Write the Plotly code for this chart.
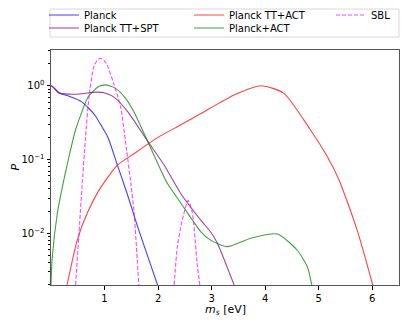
import plotly.graph_objects as go

# values (x in eV, y = P)
planck_x = [0, 0, 0.14, 0.30, 0.45, 0.58, 0.70, 0.83, 0.95, 1.07, 1.24, 1.42, 1.58, 1.73, 1.99]
planck_y = [0.0001, 1.0, 0.80, 0.74, 0.67, 0.60, 0.50, 0.39, 0.28, 0.195, 0.084, 0.035, 0.015, 0.0071, 0.002]

spt_x = [0, 0, 0.14, 0.33, 0.58, 0.83, 1.01, 1.20, 1.45, 1.80, 2.11, 2.42, 2.80, 2.98, 3.11, 3.42]
spt_y = [0.0001, 1.0, 0.82, 0.77, 0.78, 0.82, 0.80, 0.68, 0.43, 0.18, 0.085, 0.035, 0.015, 0.0105, 0.0073, 0.002]

act_tt_x = [0.30, 0.49, 0.68, 0.93, 1.24, 1.55, 1.83, 2.0, 2.40, 2.80, 2.98, 3.42, 3.93, 4.35, 4.85, 5.16, 5.38, 5.72, 6.01]
act_tt_y = [0.002, 0.0081, 0.019, 0.042, 0.084, 0.12, 0.166, 0.20, 0.29, 0.42, 0.50, 0.75, 1.0, 0.79, 0.25, 0.11, 0.053, 0.011, 0.002]

pact_x = [0.0, 0.02, 0.12, 0.24, 0.33, 0.45, 0.58, 0.70, 0.89, 1.01, 1.20, 1.39, 1.55, 1.80, 2.17, 2.42, 2.80, 2.98, 3.29, 3.73, 4.23, 4.60, 4.79, 4.87]
pact_y = [0.002, 0.0044, 0.019, 0.053, 0.105, 0.24, 0.45, 0.72, 0.98, 1.03, 0.93, 0.68, 0.44, 0.18, 0.048, 0.026, 0.0105, 0.0081, 0.0066, 0.0086, 0.0098, 0.0059, 0.0035, 0.002]

sbl_x = [0.46, 0.58, 0.64, 0.71, 0.80, 0.87, 0.93, 0.99, 1.05, 1.17, 1.30, 1.39, 1.49, 1.55, 1.64, None,
         2.30, 2.36, 2.45, 2.56, 2.64, 2.73, 2.78]
sbl_y = [0.002, 0.043, 0.18, 0.71, 1.81, 2.25, 2.35, 2.2, 1.91, 1.08, 0.52, 0.18, 0.048, 0.02, 0.002, None,
         0.002, 0.0066, 0.015, 0.028, 0.019, 0.0039, 0.002]

fig = go.Figure()

# page has an 8px body margin, so everything is placed 8px up/left of the target
OFF = 8
W, H = 420, 336

# (name, x, y, colour, dash, legend id, legend x/y in page px)
series = [
    ("Planck", planck_x, planck_y, "rgba(0,0,255,0.75)", "solid", "legend", 44, 15),
    ("Planck TT+SPT", spt_x, spt_y, "rgba(128,0,128,0.75)", "solid", "legend2", 44, 28),
    ("Planck TT+ACT", act_tt_x, act_tt_y, "rgba(255,0,0,0.75)", "solid", "legend3", 189, 15),
    ("Planck+ACT", pact_x, pact_y, "rgba(0,128,0,0.75)", "solid", "legend4", 189, 28),
    ("SBL", sbl_x, sbl_y, "rgba(255,0,255,0.75)", "4px,2px", "legend5", 331, 15),
]
for name, xs, ys, c, dash, leg, lx, ly in series:
    fig.add_trace(go.Scatter(
        x=xs, y=ys, mode="lines", name=name, legend=leg,
        line=dict(color=c, width=1.1, dash=dash, shape="spline", smoothing=0.6),
        connectgaps=False,
    ))
    fig.update_layout({leg: dict(
        orientation="h", xref="container", yref="container",
        x=(lx - OFF) / W, y=1 - (ly - OFF) / H,
        xanchor="left", yanchor="middle", borderwidth=0,
        bgcolor="rgba(0,0,0,0)", font=dict(size=10),
    )})

minor_vals = [m * 10 ** e for e in (-3, -2, -1, 0) for m in range(2, 10)]

# legend frame (page px 9 .. 37)
fig.add_shape(type="rect", xref="paper", yref="paper",
              x0=-0.003, x1=1.0, y0=(285 - 37) / 235, y1=(285 - 9) / 235,
              line=dict(color="#d8d8d8", width=1), fillcolor="rgba(0,0,0,0)", layer="below")

fig.add_annotation(text="<i>m<sub>s</sub></i> [eV]", xref="paper", yref="paper",
                   x=0.5, y=(285 - 310) / 235, showarrow=False, font=dict(size=11),
                   xanchor="center", yanchor="middle")
fig.add_annotation(text="<i>P</i>", xref="paper", yref="paper",
                   x=(15 - 51) / 348, y=0.5, showarrow=False, font=dict(size=11),
                   textangle=-90, xanchor="center", yanchor="middle")

fig.update_layout(
    width=W, height=H,
    margin=dict(l=51 - OFF, r=W - 399 + OFF, t=50 - OFF, b=H - 285 + OFF),
    paper_bgcolor="white", plot_bgcolor="white",
    font=dict(family="DejaVu Sans", size=10, color="black"),
    showlegend=True,
    xaxis=dict(
        range=[0, 6.5], tickvals=[1, 2, 3, 4, 5, 6], automargin=False,
        showgrid=False, zeroline=False,
        showline=True, linecolor="#555", mirror=True, linewidth=1,
        ticks="outside", ticklen=3.5, tickcolor="black",
    ),
    yaxis=dict(
        type="log", range=[-2.70, 0.485], automargin=False,
        tickvals=[0.01, 0.1, 1],
        ticktext=["10<sup>\u22122</sup>", "10<sup>\u22121</sup>", "10<sup>0</sup>"],
        showgrid=False, zeroline=False,
        showline=True, linecolor="#555", mirror=True, linewidth=1,
        ticks="outside", ticklen=3.5, tickcolor="black",
        minor=dict(tickvals=minor_vals, ticks="outside", ticklen=2, tickcolor="black"),
    ),
)

fig.write_html("out.html")
